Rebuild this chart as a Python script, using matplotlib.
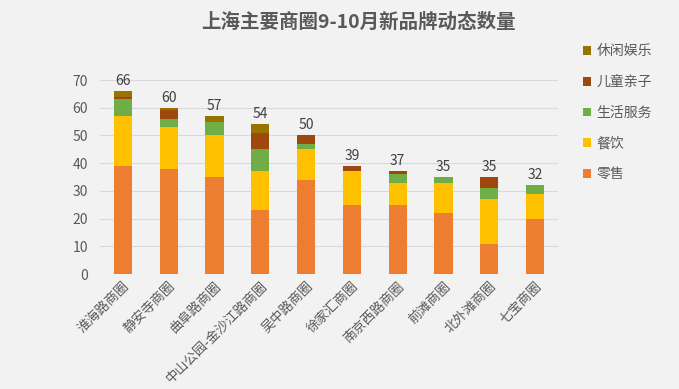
import matplotlib
matplotlib.use("Agg")
import matplotlib.pyplot as plt
import numpy as np

plt.rcParams['font.family'] = ['Noto Sans CJK SC', 'DejaVu Sans']

categories = ["淮海路商圈", "静安寺商圈", "曲阜路商圈", "中山公园-金沙江路商圈", "吴中路商圈",
              "徐家汇商圈", "南京西路商圈", "前滩商圈", "北外滩商圈", "七宝商圈"]
series_names = ["零售", "餐饮", "生活服务", "儿童亲子", "休闲娱乐"]
retail =    [39, 38, 35, 23, 34, 25, 25, 22, 11, 20]
catering =  [18, 15, 15, 14, 11, 12, 8, 11, 16, 9]
services =  [6, 3, 5, 8, 2, 0, 3, 2, 4, 3]
kids =      [1, 3, 0, 6, 3, 2, 1, 0, 4, 0]
leisure =   [2, 1, 2, 3, 0, 0, 0, 0, 0, 0]
totals =    [66, 60, 57, 54, 50, 39, 37, 35, 35, 32]
colors = ["#ED7D31", "#FFC000", "#70AD47", "#9E480E", "#997300"]

bg = "#F2F2F2"
fig = plt.figure(figsize=(6.79, 3.89), dpi=100, facecolor=bg)
ax = fig.add_axes([100/679, 1-274/389, 458/679, 194/389], facecolor=bg)

x = np.arange(len(categories))
bottom = np.zeros(len(categories))
handles = []
for vals, name, c in zip([retail, catering, services, kids, leisure], series_names, colors):
    h = ax.bar(x, vals, width=0.4, bottom=bottom, color=c, label=name, zorder=3)
    handles.append(h)
    bottom += np.array(vals)

for xi, t in zip(x, totals):
    ax.text(xi, t + 1.1, str(t), ha='center', va='bottom', fontsize=10, color='#404040')

ax.set_xlim(-0.5, len(categories) - 0.5)
ax.set_ylim(0, 70)
ax.set_yticks(range(0, 71, 10))
ax.yaxis.grid(True, color='#D9D9D9', linewidth=0.8, zorder=0)
ax.set_axisbelow(True)
for s in ax.spines.values():
    s.set_visible(False)
ax.tick_params(axis='both', length=0, colors='#595959', labelsize=10)
ax.tick_params(axis='y', pad=8.5)
ax.tick_params(axis='x', pad=4)
ax.set_xticks(x)
ax.set_xticklabels(categories, rotation=45, ha='right', rotation_mode='anchor', fontsize=9.5, color='#595959')

fig.text(358/679, 1-22/389, "上海主要商圈9-10月新品牌动态数量", ha='center', va='center',
         fontsize=14, fontweight='bold', color='#595959')

leg = fig.legend(handles[::-1], series_names[::-1], loc='upper left', bbox_to_anchor=(570/679, 1-32/389),
                 frameon=False, fontsize=10, labelcolor='#595959', handlelength=0.6, handleheight=0.6,
                 handletextpad=0.4, labelspacing=1.2)

fig.savefig("out.png", dpi=100, facecolor=bg)
